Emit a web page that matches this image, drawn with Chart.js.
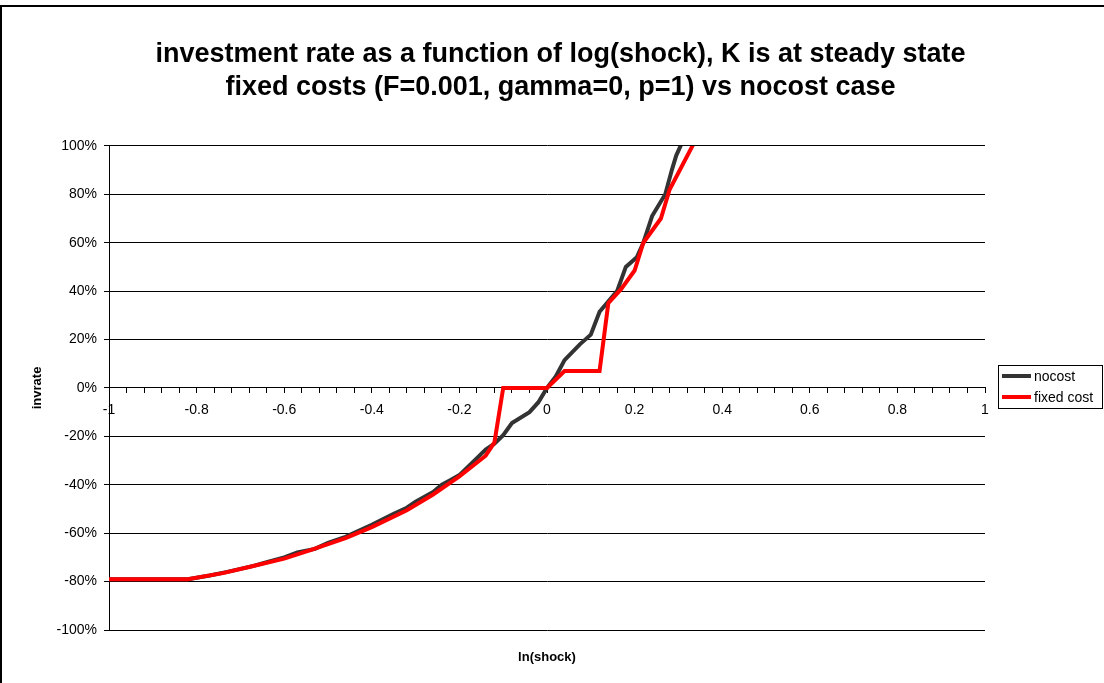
<!DOCTYPE html>
<html>
<head>
<meta charset="utf-8">
<script src="https://cdn.jsdelivr.net/npm/chart.js@4.4.1/dist/chart.umd.min.js"></script>
<style>
  body { margin: 0; background: #fff; }
  #wrap { width: 1104px; height: 683px; }
</style>
</head>
<body>
<div id="wrap"><canvas id="invChart" width="1104" height="683"></canvas></div>
<script>
// values (x = ln(shock), y = invrate in %)
const nocostX = [-1, -0.82, -0.77, -0.73, -0.67, -0.64, -0.6, -0.57, -0.53, -0.5, -0.46, -0.43, -0.4, -0.35, -0.32, -0.3, -0.26, -0.24, -0.22, -0.2, -0.18, -0.16, -0.14, -0.12, -0.1, -0.08, -0.04, -0.02, 0, 0.02, 0.04, 0.075, 0.1, 0.12, 0.16, 0.18, 0.205, 0.22, 0.24, 0.27, 0.285, 0.295, 0.31, 0.33]
const nocostY = [-79, -79, -77.5, -76, -73.5, -72, -70, -68, -66.5, -64, -61.5, -59, -56.5, -52, -49.5, -47, -43, -40, -38, -36, -32.5, -29, -25.5, -23, -19.5, -14.5, -10, -6, 0, 4.7, 11.5, 18, 22, 31.5, 40, 50, 54, 60, 71, 80, 90, 96, 102, 110]

const fixedX = [-1, -0.82, -0.74, -0.68, -0.6, -0.54, -0.46, -0.4, -0.32, -0.26, -0.2, -0.14, -0.12, -0.1, 0, 0.04, 0.12, 0.14, 0.17, 0.2, 0.22, 0.26, 0.28, 0.335, 0.36]
const fixedY = [-79, -79, -76.5, -74, -70.5, -67, -62, -57.5, -50.5, -44, -36.5, -28, -22.5, 0, 0, 7, 7, 35, 41, 48.5, 60, 70, 82, 101, 110]

const seriesNames = ['nocost', 'fixed cost']
const titleLines = ['investment rate as a function of log(shock), K is at steady state', 'fixed costs (F=0.001, gamma=0, p=1) vs nocost case']
const xTitle = 'ln(shock)'
const yTitle = 'invrate'

const FONT = "'Liberation Sans', Arial, sans-serif"

function toPoints(xs, ys) {
    return xs.map((x, i) => ({x: x, y: ys[i]}))
}

// white page + the frame at the top and left edge
const frame = {
    id: 'frame',
    beforeDraw(chart) {
        const ctx = chart.ctx
        ctx.save()
        ctx.fillStyle = '#fff'
        ctx.fillRect(0, 0, chart.width, chart.height)
        ctx.strokeStyle = '#000'
        ctx.lineWidth = 2
        ctx.beginPath()
        ctx.moveTo(1, chart.height)
        ctx.lineTo(1, 6)
        ctx.lineTo(chart.width, 6)
        ctx.stroke()
        ctx.restore()
    }
}

// excel style boxed legend to the right of the plot
const boxLegend = {
    id: 'boxLegend',
    afterDraw(chart) {
        const ctx = chart.ctx
        const area = chart.chartArea
        const left = area.right + 13
        const top = Math.round((area.top + area.bottom) / 2) - 23
        ctx.save()
        ctx.strokeStyle = '#000'
        ctx.lineWidth = 1
        ctx.strokeRect(left + 0.5, top + 0.5, 104, 43)
        chart.data.datasets.forEach((ds, i) => {
            const y = top + 11 + i * 21
            ctx.strokeStyle = ds.borderColor
            ctx.lineWidth = 4
            ctx.beginPath()
            ctx.moveTo(left + 4, y)
            ctx.lineTo(left + 33, y)
            ctx.stroke()
            ctx.fillStyle = '#000'
            ctx.font = '14px ' + FONT
            ctx.textBaseline = 'middle'
            ctx.fillText(ds.label, left + 36, y + 1)
        })
        ctx.restore()
    }
}

new Chart('invChart', {
    type: 'scatter',
    data: {
        datasets: [{
            label: seriesNames[0],
            data: toPoints(nocostX, nocostY),
            borderColor: '#333333',
            backgroundColor: '#333333',
            borderWidth: 4,
            showLine: true,
            pointRadius: 0,
            order: 1,
            clip: 0
        }, {
            label: seriesNames[1],
            data: toPoints(fixedX, fixedY),
            borderColor: '#ff0000',
            backgroundColor: '#ff0000',
            borderWidth: 4,
            showLine: true,
            pointRadius: 0,
            order: 0,
            clip: 0
        }]
    },
    options: {
        responsive: false,
        animation: false,
        layout: {padding: {left: 19, right: 2, top: 0, bottom: 0}},
        plugins: {
            legend: {display: false},
            tooltip: {enabled: false},
            title: {
                display: true,
                text: titleLines,
                color: '#000',
                font: {family: FONT, size: 27, weight: 'bold', lineHeight: 1.22},
                padding: {top: 38, bottom: 42}
            }
        },
        scales: {
            x: {
                type: 'linear',
                position: {y: 0},
                min: -1,
                max: 1,
                border: {display: true, color: '#000', width: 1},
                grid: {drawOnChartArea: false, drawTicks: true, tickLength: 5, color: '#000'},
                ticks: {
                    stepSize: 0.04,
                    autoSkip: false,
                    maxRotation: 0,
                    color: '#000',
                    padding: 9,
                    font: {family: FONT, size: 14},
                    callback: v => Math.abs(v * 5 - Math.round(v * 5)) < 1e-6 ? String(Math.round(v * 5) / 5) : ''
                }
            },
            // only carries the "ln(shock)" title under the plot
            xTitleAxis: {
                type: 'linear',
                axis: 'x',
                position: 'bottom',
                min: -1,
                max: 1,
                afterFit: scale => { scale.height = 53 },
                border: {display: false},
                grid: {display: false},
                ticks: {display: false},
                title: {
                    display: true,
                    text: xTitle,
                    color: '#000',
                    font: {family: FONT, size: 13, weight: 'bold'},
                    padding: {top: 18, bottom: 18}
                }
            },
            y: {
                min: -100,
                max: 100,
                afterFit: scale => { scale.width = 90 },
                border: {display: true, color: '#000', width: 1},
                grid: {color: '#000', lineWidth: 1, drawTicks: true, tickLength: 5},
                ticks: {
                    stepSize: 20,
                    color: '#000',
                    padding: 7,
                    font: {family: FONT, size: 14},
                    callback: v => v + '%'
                },
                title: {
                    display: true,
                    text: yTitle,
                    color: '#000',
                    font: {family: FONT, size: 13, weight: 'bold'},
                    padding: {top: 11, bottom: 0}
                }
            },
            // empty right axis that keeps room for the legend box
            legendSpace: {
                type: 'linear',
                axis: 'y',
                position: 'right',
                afterFit: scale => { scale.width = 117 },
                border: {display: false},
                grid: {display: false},
                ticks: {display: false}
            }
        }
    },
    plugins: [frame, boxLegend]
})
</script>
</body>
</html>
